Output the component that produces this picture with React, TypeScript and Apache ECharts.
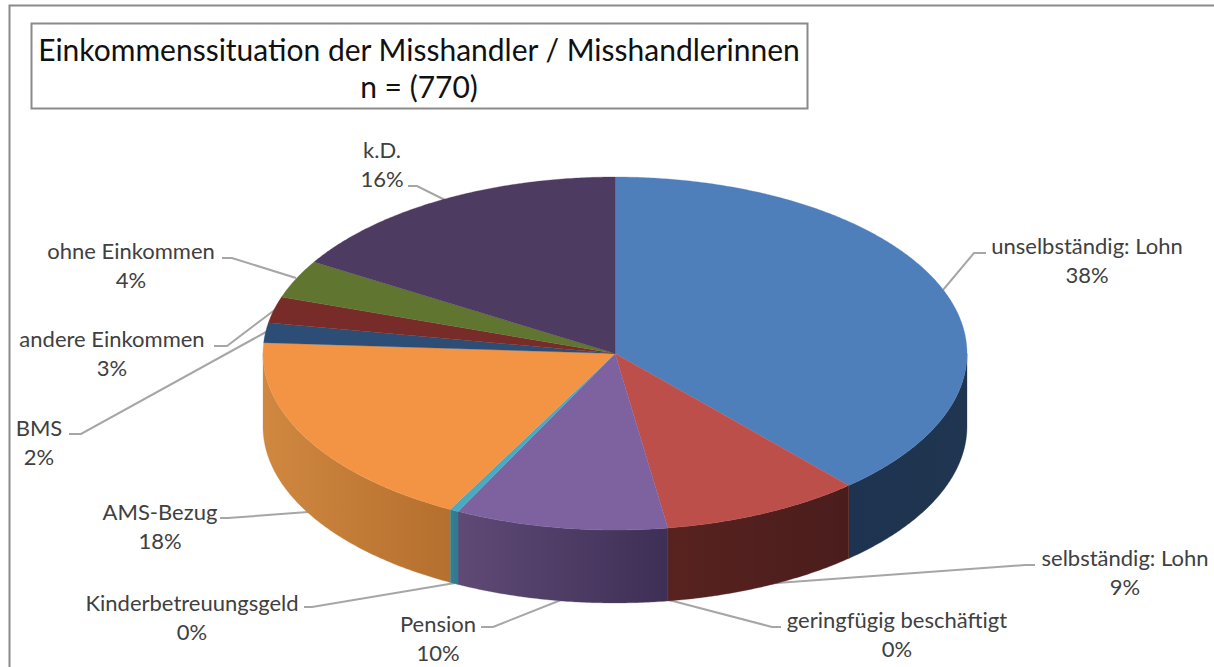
import React, { useEffect, useRef } from "react";
import * as echarts from "echarts";

const categories = ["unselbständig: Lohn", "selbständig: Lohn", "geringfügig beschäftigt", "Pension", "Kinderbetreuungsgeld", "AMS-Bezug", "BMS", "andere Einkommen", "ohne Einkommen", "k.D."];
const shares = [38.4, 9.15, 0, 9.75, 0.4, 18.2, 1.8, 2.4, 3.5, 16.3];
const percentLabels = ["38%", "9%", "0%", "10%", "0%", "18%", "2%", "3%", "4%", "16%"];
const titleLines = ["Einkommenssituation der Misshandler / Misshandlerinnen", "n = (770)"];

const topColors = ["#4e7fba", "#bd4f4b", "#9bbb59", "#7e62a0", "#4aaac4", "#f39444", "#2c4d75", "#772c2a", "#5f7530", "#4d3b62"];
const wallLeft = ["#1d334f", "#58221f", "#5f7530", "#5f4a75", "#2f8096", "#d08840", "#1b3048", "#4a1b1a", "#3b491e", "#30253d"];
const wallRight = ["#1f3550", "#4a1d1c", "#5f7530", "#3e2f56", "#2f7a90", "#b56f2e", "#1b3048", "#4a1b1a", "#3b491e", "#30253d"];

const CX = 615, CY = 353.5, RX = 352, RY = 176.5, DEPTH = 73;

// label anchor (centre x, first line centre y) and leader points
const labelLayout: { x: number; y: number; leader: number[][] }[] = [
  { x: 1087, y: 245, leader: [[943, 290], [974, 253], [986, 253]] },
  { x: 1125, y: 557, leader: [[763, 584], [1025, 565], [1035, 565]] },
  { x: 897, y: 619, leader: [[669, 600], [772, 627], [781, 627]] },
  { x: 438, y: 623, leader: [[561, 600], [493, 627], [481, 627]] },
  { x: 192, y: 602, leader: [[455, 583], [312, 607], [304, 607]] },
  { x: 160, y: 511, leader: [[308, 512], [228, 518], [220, 518]] },
  { x: 39, y: 427, leader: [[266, 332], [81, 434], [69, 434]] },
  { x: 112, y: 338, leader: [[276, 309], [227, 346], [214, 346]] },
  { x: 131, y: 250, leader: [[296, 278], [232, 258], [222, 258]] },
  { x: 382, y: 149, leader: [[445, 200], [417, 186], [408, 186]] },
];

const FONT = "Lato, Carlito, Calibri, sans-serif";
const total = shares.reduce((a, b) => a + b, 0);
const starts: number[] = [];
shares.reduce((acc, v, i) => {
  starts[i] = acc;
  return acc + v;
}, 0);
const toAngle = (v: number) => (v / total) * Math.PI * 2;
const pt = (t: number, dy = 0) => [CX + RX * Math.sin(t), CY - RY * Math.cos(t) + dy];

function arcPoints(a: number, b: number, dy = 0) {
  const n = Math.max(2, Math.ceil((b - a) / 0.008));
  const out: number[][] = [];
  for (let k = 0; k <= n; k++) out.push(pt(a + ((b - a) * k) / n, dy));
  return out;
}

function renderSlice(params: any, api: any) {
  const i = params.dataIndex;
  const a = toAngle(starts[i]);
  const b = a + toAngle(api.value(0));
  const children: any[] = [];
  // outer wall: only the front half (t between PI/2 and 3PI/2) is visible
  const wa = Math.max(a, Math.PI / 2);
  const wb = Math.min(b, (Math.PI * 3) / 2);
  if (wb > wa) {
    const upper = arcPoints(wa, wb);
    const lower = arcPoints(wa, wb, DEPTH).reverse();
    children.push({
      type: "polygon",
      shape: { points: upper.concat(lower) },
      style: {
        fill: new echarts.graphic.LinearGradient(0, 0, 1, 0, [
          { offset: 0, color: wallLeft[i] },
          { offset: 1, color: wallRight[i] },
        ]),
        stroke: wallLeft[i],
        lineWidth: 0.3,
      },
    });
  }
  if (b > a) {
    children.push({
      type: "polygon",
      shape: { points: [[CX, CY]].concat(arcPoints(a, b)) },
      style: { fill: topColors[i], stroke: topColors[i], lineWidth: 0.3 },
    });
  }
  return { type: "group", children };
}

function renderLabel(params: any) {
  const i = params.dataIndex;
  const l = labelLayout[i];
  return {
    type: "group",
    children: [
      { type: "polyline", shape: { points: l.leader }, style: { stroke: "#a6a6a6", lineWidth: 2, fill: "none" } },
      {
        type: "text",
        style: { x: l.x, y: l.y, text: categories[i], fill: "#404040", font: `22px ${FONT}`, textAlign: "center", textVerticalAlign: "middle" },
      },
      {
        type: "text",
        style: { x: l.x, y: l.y + 29.5, text: percentLabels[i], fill: "#404040", font: `22px ${FONT}`, textAlign: "center", textVerticalAlign: "middle" },
      },
    ],
  };
}

export default function App() {
  const ref = useRef<HTMLDivElement>(null);
  useEffect(() => {
    const chart = echarts.init(ref.current!, null, { renderer: "svg" });
    chart.setOption({
      animation: false,
      backgroundColor: "#ffffff",
      title: {
        text: titleLines.join("\n"),
        left: 419,
        top: 30,
        textAlign: "center",
        padding: 0,
        textStyle: { fontFamily: FONT, fontSize: 30, fontWeight: "normal", color: "#111111", lineHeight: 37 },
      },
      graphic: [
        { type: "rect", shape: { x: 9.5, y: 5.5, width: 1220, height: 680 }, style: { fill: "none", stroke: "#8a8a8a", lineWidth: 2 }, silent: true },
        { type: "rect", shape: { x: 31.5, y: 23.5, width: 776, height: 85 }, style: { fill: "#ffffff", stroke: "#8a8a8a", lineWidth: 2 }, silent: true, z: -1 },
      ],
      series: [
        {
          type: "custom",
          coordinateSystem: "none",
          clip: false,
          data: shares.map((v, i) => ({ name: categories[i], value: [v] })),
          renderItem: renderSlice,
          silent: true,
          z: 2,
        },
        {
          type: "custom",
          coordinateSystem: "none",
          clip: false,
          data: shares.map((v, i) => ({ name: categories[i], value: [v] })),
          renderItem: renderLabel,
          silent: true,
          z: 1,
        },
      ],
    });
    return () => chart.dispose();
  }, []);
  return <div ref={ref} style={{ position: "absolute", left: 0, top: 0, width: 1214, height: 667 }} />;
}
